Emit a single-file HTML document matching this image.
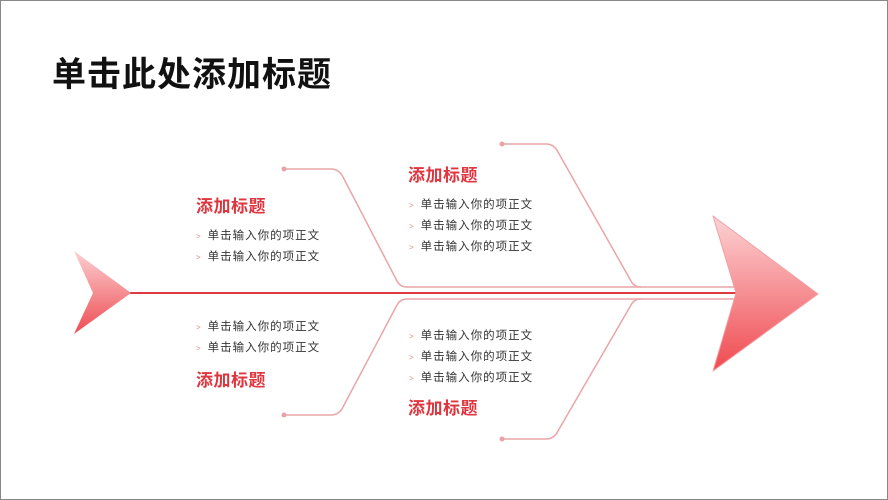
<!DOCTYPE html>
<html><head><meta charset="utf-8"><style>
body{margin:0;}
.c{position:relative;width:886px;height:498px;border:1px solid #888;background:#fff;overflow:hidden;font-family:"Liberation Sans","Noto Sans CJK SC",sans-serif;}
.h{position:absolute;left:51px;top:46px;font-size:34px;font-weight:bold;color:#111;letter-spacing:1px;}
.t{position:absolute;font-size:17px;font-weight:bold;color:#e0353f;letter-spacing:0.5px;}
.i{position:absolute;font-size:11.5px;color:#333;line-height:20px;letter-spacing:1px;}
.i span{color:#e88;font-size:8px;margin-right:6px;}
svg{position:absolute;left:0;top:0;}
</style></head><body><div class="c">
<svg width="888" height="500">
<defs>
<linearGradient id="g" x1="0" y1="0" x2="0" y2="1"><stop offset="0" stop-color="#fcd3d5"/><stop offset="1" stop-color="#ef4a50"/></linearGradient>
<linearGradient id="g2" x1="0" y1="0" x2="0" y2="1"><stop offset="0" stop-color="#fbd0d2"/><stop offset="1" stop-color="#ee4c52"/></linearGradient>
</defs>
<g fill="none" stroke="#eaa5a8" stroke-width="1.5">
<path d="M283 168 H330 Q338 168 342 176 L396 280 Q399 286 406 286 H735"/>
<path d="M501 143 H545 Q553 143 557 151 L630 280 Q633 286 640 286"/>
<path d="M283 414 H330 Q338 414 342 406 L396 304 Q399 298 406 298 H735"/>
<path d="M501 438 H545 Q553 438 557 430 L630 304 Q633 298 640 298"/>
</g>
<g fill="#e9a3a6"><circle cx="283" cy="168" r="2.5"/><circle cx="501" cy="143" r="2.5"/><circle cx="283" cy="414" r="2.5"/><circle cx="501" cy="438" r="2.5"/></g>
<line x1="128" y1="292" x2="736" y2="292" stroke="#dd3a42" stroke-width="2"/>
<path d="M73 250 L130 292 L73 333 L92 292 Z" fill="url(#g2)"/>
<path d="M712 215 L817 293 L712 370 L735 292 Z" fill="url(#g)" stroke="#f2a0a4" stroke-width="1" stroke-linejoin="round"/>
</svg>
<div class="h">单击此处添加标题</div>
<div class="t" style="left:195px;top:191px">添加标题</div>
<div class="i" style="left:195px;top:225px"><span>&gt;</span>单击输入你的项正文<br><span>&gt;</span>单击输入你的项正文</div>
<div class="t" style="left:407px;top:160px">添加标题</div>
<div class="i" style="left:408px;top:194px"><span>&gt;</span>单击输入你的项正文<br><span>&gt;</span>单击输入你的项正文<br><span>&gt;</span>单击输入你的项正文</div>
<div class="i" style="left:195px;top:316px"><span>&gt;</span>单击输入你的项正文<br><span>&gt;</span>单击输入你的项正文</div>
<div class="t" style="left:195px;top:365px">添加标题</div>
<div class="i" style="left:408px;top:325px"><span>&gt;</span>单击输入你的项正文<br><span>&gt;</span>单击输入你的项正文<br><span>&gt;</span>单击输入你的项正文</div>
<div class="t" style="left:407px;top:393px">添加标题</div>
</div></body></html>
